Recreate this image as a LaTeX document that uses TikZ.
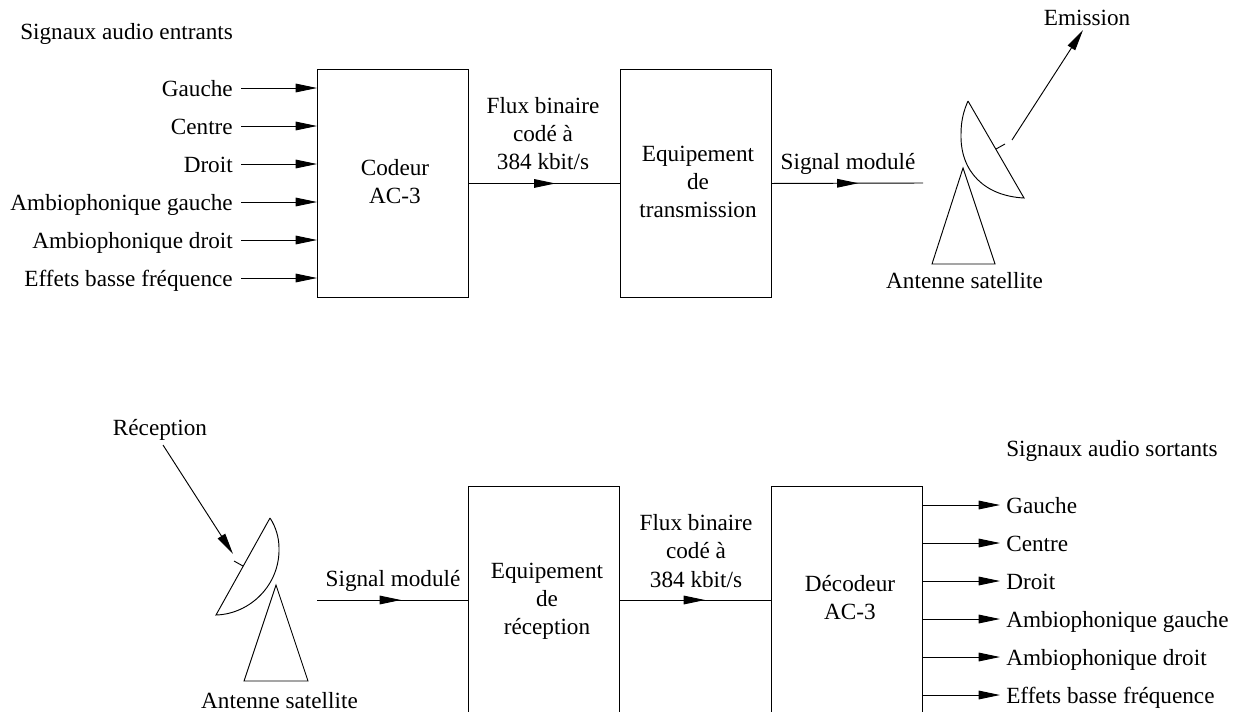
\documentclass[tikz,border=0pt]{standalone}
\usepackage{fontspec}
\setmainfont{Liberation Serif}
\usetikzlibrary{arrows.meta,decorations.markings}
\tikzset{
  x=0.75pt,y=-0.75pt,
  lw/.style={line width=0.7pt},
  blockbox/.style={draw,lw,inner sep=0pt,anchor=north west,align=center},
  txt/.style={inner sep=0pt,anchor=base,font=\fontsize{17.4pt}{21pt}\selectfont},
  txtl/.style={txt,anchor=base west},
  txtr/.style={txt,anchor=base east},
  tipend/.style={-{Triangle[length=16pt,width=6.5pt]},lw},
  midarrow/.style={lw,postaction={decorate},decoration={markings,mark=at position #1 with {\arrow{Triangle[length=16pt,width=6.5pt]}}}},
  outline/.style={lw,line join=miter}
}
\begin{document}
\begin{tikzpicture}
\useasboundingbox (0,0) rectangle (1237,711);
% top blocks
\node[blockbox,minimum width=113.25pt,minimum height=171pt] (codeur) at (317,69) {};
\node[blockbox,minimum width=113.25pt,minimum height=171pt] (emis) at (620,69) {};
\node[txt] (tcod1) at (395,175) {Codeur};
\node[txt] (tcod2) at (395,203) {AC-3};
\node[txt] (tem1) at (698,161) {Equipement};
\node[txt] (tem2) at (698,189) {de};
\node[txt] (tem3) at (698,217) {transmission};
\node[txtl] (tsig) at (20,39) {Signaux audio entrants};
% inputs
\foreach \n/\t/\y in {a/Gauche/88,b/Centre/126,c/Droit/164,d/Ambiophonique gauche/202,e/Ambiophonique droit/240,f/Effets basse fréquence/278}{
  \coordinate (st\n) at (241,\y);
  \node[txtr] (in\n) at (233,\y+8) {\t};
  \draw[tipend] (st\n) -- (st\n -| codeur.west);
}
% top middle
\draw[midarrow=0.572] (codeur.east) -- (emis.west);
\node[txt] (fl1) at (543,113) {Flux binaire};
\node[txt] (fl2) at (543,141) {codé à};
\node[txt] (fl3) at (543,169) {384 kbit/s};
\coordinate (s2) at (923,183);
\draw[midarrow=0.572] (emis.east) -- (s2);
\node[txt] (sm) at (848,169) {Signal modulé};
% top dish
\coordinate (dt) at (968,101);
\coordinate (db) at (1024,198);
\draw[outline] (dt) -- (db) .. controls (985,196) and (960,172) .. (961,134) .. controls (961,120) and (964,110) .. (dt);
\coordinate (f1) at (996,149);
\coordinate (f2) at (1005,144);
\draw[lw] (f1) -- (f2);
\coordinate (e1) at (1012,140);
\coordinate (e2) at (1083,30);
\draw[tipend] (e1) -- (e2);
\coordinate (ta) at (963,168);
\coordinate (tb) at (932,264);
\coordinate (tc) at (995,264);
\draw[outline] (ta) -- (tb) -- (tc) -- cycle;
\node[txt] (emt) at (1087,25) {Emission};
\node[txt] (ant1) at (964.5,288) {Antenne satellite};
% bottom blocks
\node[blockbox,minimum width=113.25pt,minimum height=169.5pt] (recep) at (468,486) {};
\node[blockbox,minimum width=113.25pt,minimum height=169.5pt] (decod) at (771,486) {};
\node[txt] (tr1) at (547,578) {Equipement};
\node[txt] (tr2) at (547,606) {de};
\node[txt] (tr3) at (547,634) {réception};
\node[txt] (td1) at (850,591) {Décodeur};
\node[txt] (td2) at (850,619) {AC-3};
\node[txtl] (tsout) at (1006,456) {Signaux audio sortants};
\foreach \n/\t/\y in {a/Gauche/505,b/Centre/543,c/Droit/581,d/Ambiophonique gauche/619,e/Ambiophonique droit/657,f/Effets basse fréquence/695}{
  \coordinate (en\n) at (1000,\y);
  \node[txtl] (out\n) at (1006,\y+8) {\t};
  \draw[tipend] (en\n -| decod.east) -- (en\n);
}
\coordinate (n1) at (317,600);
\draw[midarrow=0.556] (n1) -- (n1 -| recep.west);
\node[txt] (sm2) at (393,586) {Signal modulé};
\draw[midarrow=0.563] (n1 -| recep.east) -- (n1 -| decod.west);
\node[txt] (fb1) at (696,530) {Flux binaire};
\node[txt] (fb2) at (696,558) {codé à};
\node[txt] (fb3) at (696,587) {384 kbit/s};
% bottom dish
\coordinate (rt) at (270,518);
\coordinate (rb) at (216,615);
\draw[outline] (rt) -- (rb) .. controls (250,614) and (280,585) .. (279,548) .. controls (279,538) and (276,527) .. (rt);
\coordinate (g1) at (243,566);
\coordinate (g2) at (234,561);
\draw[lw] (g1) -- (g2);
\coordinate (r1) at (163,445);
\coordinate (r2) at (233,554);
\draw[tipend] (r1) -- (r2);
\coordinate (ua) at (276,585);
\coordinate (ub) at (244,681);
\coordinate (uc) at (308,681);
\draw[outline] (ua) -- (ub) -- (uc) -- cycle;
\node[txt] (rct) at (160,435) {Réception};
\node[txt] (ant2) at (279.5,708) {Antenne satellite};
\end{tikzpicture}
\end{document}
